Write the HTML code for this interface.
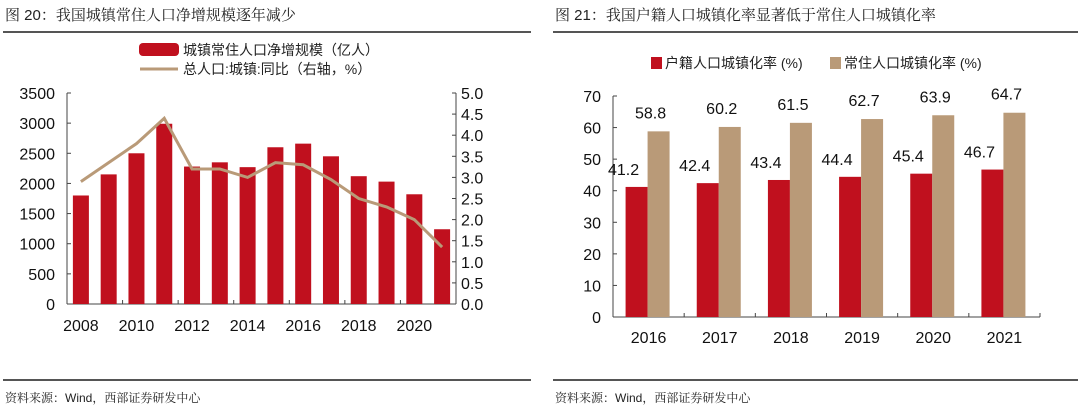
<!DOCTYPE html>
<html><head><meta charset="utf-8">
<style>
body{margin:0;width:1080px;height:408px;background:#fff;overflow:hidden;font-family:"Liberation Sans","Noto Sans CJK SC",sans-serif;}
.t{position:absolute;font-size:15px;color:#222;white-space:nowrap;font-family:"Liberation Sans","Noto Serif CJK SC",serif;}
.ln{position:absolute;height:2px;background:#555;}
.src{position:absolute;font-size:12px;color:#222;font-family:"Liberation Sans","Noto Serif CJK SC",serif;}
svg{position:absolute;left:0;top:0}
svg text{font-family:"Liberation Sans","Noto Sans CJK SC",sans-serif;}
</style></head><body>
<div class="t" style="left:5px;top:4px">图 20：我国城镇常住人口净增规模逐年减少</div>
<div class="t" style="left:555px;top:4px">图 21：我国户籍人口城镇化率显著低于常住人口城镇化率</div>
<div class="ln" style="left:3px;top:31px;width:528px"></div>
<div class="ln" style="left:553px;top:31px;width:525px"></div>
<div class="ln" style="left:3px;top:379px;width:528px"></div>
<div class="ln" style="left:553px;top:379px;width:525px"></div>
<div class="src" style="left:5px;top:389px">资料来源：Wind，西部证券研发中心</div>
<div class="src" style="left:555px;top:389px">资料来源：Wind，西部证券研发中心</div>
<svg id="c" width="1080" height="408"></svg>
<script>
const years1=["2008","2009","2010","2011","2012","2013","2014","2015","2016","2017","2018","2019","2020","2021"];
const netIncrease=[1800,2150,2500,2990,2280,2350,2270,2600,2660,2450,2120,2030,1820,1240];
const yoyGrowth=[2.9,3.35,3.8,4.4,3.2,3.2,3.0,3.35,3.3,2.95,2.5,2.3,2.0,1.35];
const leftTicks=[0,500,1000,1500,2000,2500,3000,3500];
const rightTicks=[0,0.5,1,1.5,2,2.5,3,3.5,4,4.5,5];
const years2=["2016","2017","2018","2019","2020","2021"];
const huji=[41.2,42.4,43.4,44.4,45.4,46.7];
const changzhu=[58.8,60.2,61.5,62.7,63.9,64.7];
const ticks2=[0,10,20,30,40,50,60,70];

const svg=document.getElementById('c');
const NS='http://www.w3.org/2000/svg';
function mk(t,a,txt){const e=document.createElementNS(NS,t);for(const k in a)e.setAttribute(k,a[k]);if(txt!=null)e.textContent=txt;svg.appendChild(e);return e;}

// Left chart
const L={x0:67,x1:456,y0:304,y1:93};
const yL=v=>L.y0-(v/3500)*(L.y0-L.y1);
const yR=v=>L.y0-(v/5)*(L.y0-L.y1);
const step1=(L.x1-L.x0)/years1.length;
const xC=i=>L.x0+step1*(i+0.5);
let e;
e=mk('line',{x1:L.x0,y1:L.y1,x2:L.x0,y2:L.y0,stroke:'#444'});


e=mk('line',{x1:L.x1,y1:L.y1,x2:L.x1,y2:L.y0,stroke:'#444'});


e=mk('line',{x1:L.x0,y1:L.y0,x2:L.x1,y2:L.y0,stroke:'#444'});


leftTicks.forEach(v=>{mk('line',{x1:L.x0,y1:yL(v),x2:L.x0+4,y2:yL(v),stroke:'#444'});
 e=mk('text',{x:L.x0-12,y:yL(v)+6,'text-anchor':'end','font-size':16,fill:'#111'},v);
 
 });
rightTicks.forEach(v=>{mk('line',{x1:L.x1-4,y1:yR(v),x2:L.x1,y2:yR(v),stroke:'#444'});
 e=mk('text',{x:L.x1+5,y:yR(v)+6,'font-size':16,fill:'#111'},v.toFixed(1));
 
 });
years1.forEach((y,i)=>{
 if(i%2==0){mk('line',{x1:L.x0+step1*i,y1:L.y0,x2:L.x0+step1*i,y2:L.y0-4,stroke:'#444'});}
 e=mk('rect',{x:xC(i)-8,y:yL(netIncrease[i]),width:16,height:L.y0-yL(netIncrease[i]),fill:'#c0101e'});
 
 
 if(i%2==0){e=mk('text',{x:xC(i),y:331,'text-anchor':'middle','font-size':16,fill:'#111'},y);
 
 }
});
e=mk('polyline',{points:yoyGrowth.map((v,i)=>xC(i)+','+yR(v)).join(' '),fill:'none',stroke:'#b99a78','stroke-width':3});


e=mk('rect',{x:139,y:43,width:40,height:13,rx:4,fill:'#c0101e'});


e=mk('text',{x:183,y:55,'font-size':14,fill:'#222'},'城镇常住人口净增规模（亿人）');


e=mk('line',{x1:140,y1:69,x2:178,y2:69,stroke:'#b99a78','stroke-width':3});


e=mk('text',{x:183,y:74,'font-size':14,fill:'#222'},'总人口:城镇:同比（右轴，%）');



// Right chart
const R={x0:613,x1:1040,y0:317,y1:96};
const y2=v=>R.y0-(v/70)*(R.y0-R.y1);
const step2=(R.x1-R.x0)/years2.length;
const xC2=i=>R.x0+step2*(i+0.5);
e=mk('line',{x1:R.x0,y1:R.y1,x2:R.x0,y2:R.y0,stroke:'#444'});


e=mk('line',{x1:R.x0,y1:R.y0,x2:R.x1,y2:R.y0,stroke:'#444'});


ticks2.forEach(v=>{mk('line',{x1:R.x0,y1:y2(v),x2:R.x0+4,y2:y2(v),stroke:'#444'});
 e=mk('text',{x:R.x0-12,y:y2(v)+6,'text-anchor':'end','font-size':16,fill:'#111'},v);
 
 });
years2.forEach((y,i)=>{
 mk('line',{x1:R.x0+step2*(i+1),y1:R.y0,x2:R.x0+step2*(i+1),y2:R.y0-4,stroke:'#444'});
 const c=xC2(i);
 e=mk('rect',{x:c-23,y:y2(huji[i]),width:22,height:R.y0-y2(huji[i]),fill:'#c0101e'});
 
 
 e=mk('rect',{x:c-1,y:y2(changzhu[i]),width:22,height:R.y0-y2(changzhu[i]),fill:'#b99a78'});
 
 
 e=mk('text',{x:c-25,y:y2(huji[i])-12,'text-anchor':'middle','font-size':16,fill:'#111'},huji[i].toFixed(1));
 
 
 e=mk('text',{x:c+2,y:y2(changzhu[i])-13,'text-anchor':'middle','font-size':16,fill:'#111'},changzhu[i].toFixed(1));
 
 
 e=mk('text',{x:c,y:343,'text-anchor':'middle','font-size':16,fill:'#111'},y);
 
 
});
e=mk('rect',{x:651,y:57,width:11,height:12,fill:'#c0101e'});


e=mk('text',{x:665,y:68,'font-size':14,fill:'#222'},'户籍人口城镇化率 (%)');


e=mk('rect',{x:830,y:57,width:11,height:12,fill:'#b99a78'});


e=mk('text',{x:844,y:68,'font-size':14,fill:'#222'},'常住人口城镇化率 (%)');


</script>
</body></html>
